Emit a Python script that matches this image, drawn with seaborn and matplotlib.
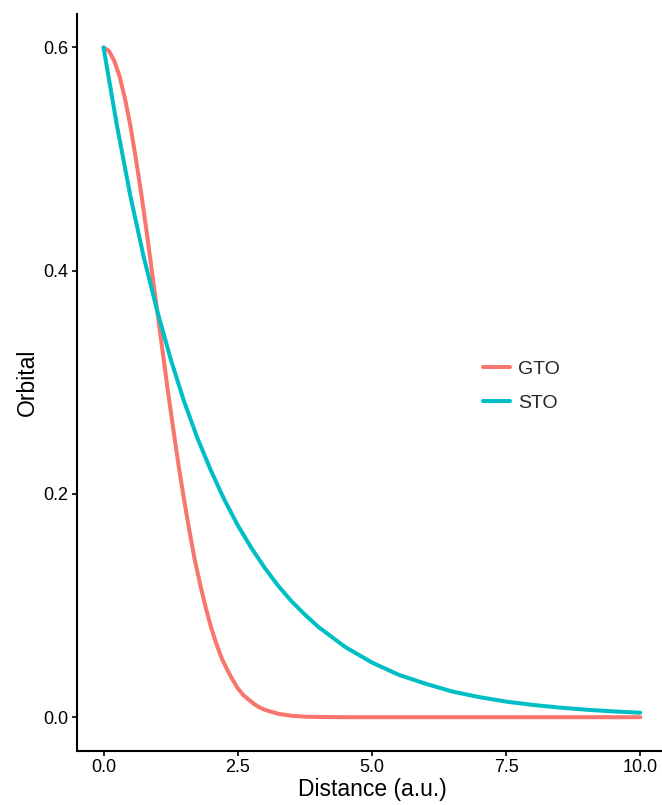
import matplotlib
matplotlib.use("Agg")
import matplotlib.pyplot as plt
import seaborn as sns
import pandas as pd

# Data
gto_x = [0.0, 0.1, 0.2, 0.3, 0.4, 0.5, 0.6, 0.7, 0.8, 0.9, 1.0, 1.1, 1.2, 1.3, 1.4,
         1.5, 1.6, 1.7, 1.8, 1.9, 2.0, 2.1, 2.2, 2.3, 2.4, 2.5, 2.6, 2.7, 2.8, 2.9,
         3.0, 3.25, 3.5, 3.75, 4.0, 4.5, 5.0, 6.0, 7.5, 10.0]
gto_y = [0.600, 0.597, 0.588, 0.574, 0.554, 0.530, 0.501, 0.470, 0.436, 0.400,
         0.364, 0.328, 0.292, 0.258, 0.225, 0.195, 0.167, 0.141, 0.119, 0.099,
         0.081, 0.066, 0.053, 0.043, 0.034, 0.026, 0.020, 0.016, 0.012, 0.009,
         0.0067, 0.0031, 0.0013, 0.0005, 0.0002, 0.00002, 0.0, 0.0, 0.0, 0.0]

sto_x = [0.0, 0.25, 0.5, 0.75, 1.0, 1.25, 1.5, 1.75, 2.0, 2.25, 2.5, 2.75, 3.0,
         3.25, 3.5, 3.75, 4.0, 4.5, 5.0, 5.5, 6.0, 6.5, 7.0, 7.5, 8.0, 8.5, 9.0,
         9.5, 10.0]
sto_y = [0.600, 0.530, 0.467, 0.412, 0.364, 0.321, 0.283, 0.250, 0.221, 0.195,
         0.172, 0.152, 0.134, 0.118, 0.104, 0.092, 0.081, 0.063, 0.049, 0.038,
         0.030, 0.023, 0.018, 0.014, 0.011, 0.0086, 0.0067, 0.0052, 0.0040]

series_names = ["GTO", "STO"]
palette = {"GTO": "#F8766D", "STO": "#00BFC4"}
x_ticks = [0.0, 2.5, 5.0, 7.5, 10.0]
y_ticks = [0.0, 0.2, 0.4, 0.6]

df = pd.concat([
    pd.DataFrame({"Distance": gto_x, "Orbital": gto_y, "type": "GTO"}),
    pd.DataFrame({"Distance": sto_x, "Orbital": sto_y, "type": "STO"}),
], ignore_index=True)

sns.set_theme(style="ticks")
plt.rcParams["font.family"] = ["Liberation Sans", "DejaVu Sans"]

W, H = 662, 805
ax_l, ax_r, ax_t, ax_b = 76.7, 667.1, 14.0, 750.7
fig = plt.figure(figsize=(W / 100, H / 100), dpi=100)
ax = fig.add_axes([ax_l / W, 1 - ax_b / H, (ax_r - ax_l) / W, (ax_b - ax_t) / H])

sns.lineplot(data=df, x="Distance", y="Orbital", hue="type", hue_order=series_names,
             palette=palette, linewidth=2.9, ax=ax, estimator=None, sort=True)

ax.set_xlim(-0.5, 10.5)
ax.set_ylim(-0.03, 0.63)
ax.set_xticks(x_ticks)
ax.set_xticklabels([f"{t:.1f}" for t in x_ticks])
ax.set_yticks(y_ticks)
ax.set_yticklabels([f"{t:.1f}" for t in y_ticks])
ax.set_xlabel("Distance (a.u.)", fontsize=16.5, color="black", labelpad=1)
ax.set_ylabel("Orbital", fontsize=16.5, color="black", labelpad=3)
ax.tick_params(axis="both", labelsize=13, colors="black", length=3.8, width=1.2,
               direction="out", pad=2.5)
for s in ["top", "right"]:
    ax.spines[s].set_visible(False)
for s in ["left", "bottom"]:
    ax.spines[s].set_linewidth(1.5)
    ax.spines[s].set_color("black")

leg = ax.legend(title=None, frameon=False, loc="center left",
                bbox_to_anchor=((483 - ax_l) / (ax_r - ax_l), (ax_b - 386) / (ax_b - ax_t)),
                fontsize=14, handlelength=1.4, handletextpad=0.4,
                labelspacing=0.85, borderpad=0, borderaxespad=0)
for line in leg.get_lines():
    line.set_linewidth(2.9)

fig.savefig("out.png", dpi=100)
